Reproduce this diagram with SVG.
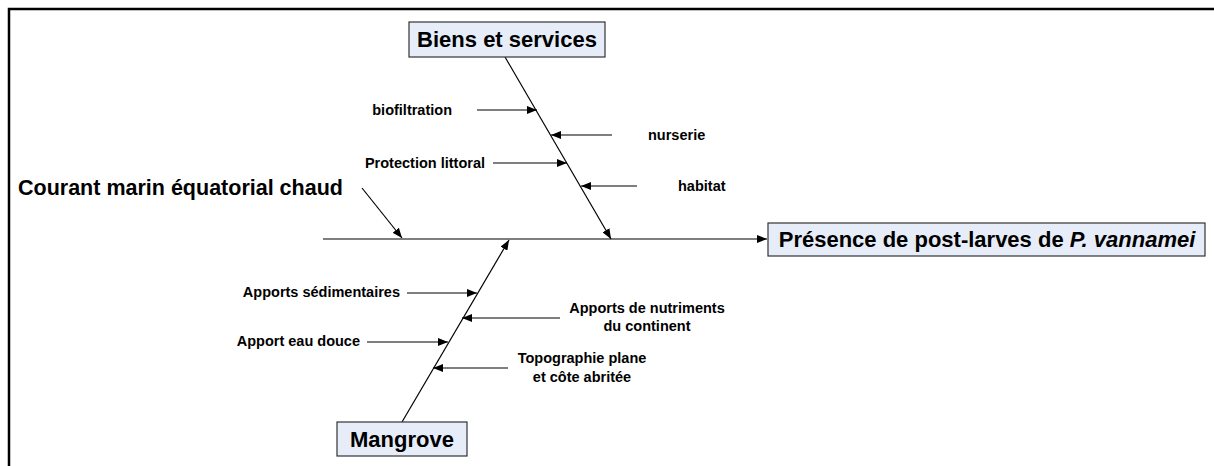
<svg xmlns="http://www.w3.org/2000/svg" width="1214" height="466" viewBox="0 0 1214 466">
<style>
.box{fill:#E7EDF8;stroke:#333;stroke-width:1.2}
.big{font-family:"Liberation Sans",Arial,sans-serif;font-weight:bold;font-size:22px;fill:#000}
.sm{font-family:"Liberation Sans",Arial,sans-serif;font-weight:bold;font-size:14.5px;fill:#000}
.ln{stroke:#000;stroke-width:1.2;fill:none}
</style>
<defs>
<marker id="ah" viewBox="0 0 10 8" refX="10" refY="4" markerWidth="10" markerHeight="8" markerUnits="userSpaceOnUse" orient="auto">
<path d="M0,0 L10,4 L0,8 Z" fill="#000"/>
</marker>
</defs>
<rect width="1214" height="466" fill="#fff"/>
<path d="M9,466 L9,9 L1214,9" fill="none" stroke="#000" stroke-width="2.5"/>
<g id="connectors" class="ln" marker-end="url(#ah)">
<line x1="323" y1="239" x2="767" y2="239"/>
<line x1="505" y1="57" x2="611" y2="239"/>
<line x1="402" y1="422" x2="509" y2="240"/>
<line x1="362" y1="188" x2="402" y2="238"/>
<line x1="477" y1="110" x2="537" y2="110"/>
<line x1="612" y1="135" x2="551" y2="135"/>
<line x1="493" y1="163" x2="567" y2="163"/>
<line x1="637" y1="186" x2="581" y2="186"/>
<line x1="407" y1="293" x2="477" y2="293"/>
<line x1="560" y1="318" x2="462" y2="318"/>
<line x1="367" y1="342" x2="448" y2="342"/>
<line x1="508" y1="368" x2="433" y2="368"/>
</g>
<g id="biens">
<rect class="box" x="409" y="22" width="196" height="35"/>
<text class="big" x="507" y="47" text-anchor="middle">Biens et services</text>
</g>
<g id="presence">
<rect class="box" x="768" y="223" width="437" height="33"/>
<text class="big" x="987" y="247" text-anchor="middle">Présence de post-larves de <tspan font-style="italic">P. vannamei</tspan></text>
</g>
<g id="mangrove">
<rect class="box" x="337" y="422" width="130" height="34"/>
<text class="big" x="402" y="447" text-anchor="middle">Mangrove</text>
</g>
<g id="courant">
<text class="big" x="18" y="195" style="font-size:21.5px">Courant marin équatorial chaud</text>
</g>
<g id="biofiltration"><text class="sm" x="452" y="115" text-anchor="end">biofiltration</text></g>
<g id="nurserie"><text class="sm" x="648" y="140">nurserie</text></g>
<g id="protection"><text class="sm" x="485" y="168" text-anchor="end">Protection littoral</text></g>
<g id="habitat"><text class="sm" x="678" y="191">habitat</text></g>
<g id="sedimentaires"><text class="sm" x="400" y="297" text-anchor="end">Apports sédimentaires</text></g>
<g id="nutriments"><text class="sm" x="647" y="313" text-anchor="middle">Apports de nutriments</text><text class="sm" x="647" y="331" text-anchor="middle">du continent</text></g>
<g id="eaudouce"><text class="sm" x="360" y="346" text-anchor="end">Apport eau douce</text></g>
<g id="topographie"><text class="sm" x="582" y="363" text-anchor="middle">Topographie plane</text><text class="sm" x="582" y="382" text-anchor="middle">et côte abritée</text></g>
</svg>
